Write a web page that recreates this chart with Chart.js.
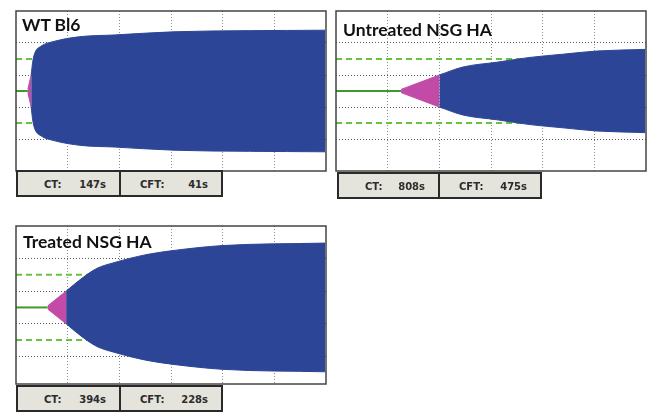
<!DOCTYPE html>
<html>
<head>
<meta charset="utf-8">
<script src="https://cdn.jsdelivr.net/npm/chart.js@4/dist/chart.umd.min.js"></script>
<style>
  html, body { margin: 0; padding: 0; background: #ffffff; }
  #stage { position: relative; width: 652px; height: 417px; overflow: hidden; }
  canvas { position: absolute; }
  .title { position: absolute; font-family: Lato, "Open Sans", sans-serif; font-weight: 700;
           font-size: 17.5px; color: #111; white-space: nowrap; line-height: 1; }
  .box { position: absolute; box-sizing: border-box; border: 2px solid #2a2a2a; background: #e4e3dc;
         font-family: "DejaVu Sans", sans-serif; font-weight: 700; font-size: 10px; color: #2c2c2c; }
  .box span { position: absolute; top: 50%; transform: translateY(-50%); white-space: nowrap; }
</style>
</head>
<body>
<div id="stage"></div>
<script>
// Clot-formation traces (ROTEM style): time in seconds, half amplitude in mm.
const panelTitles = ['WT Bl6', 'Untreated NSG HA', 'Treated NSG HA'];
const ctSeconds  = [147, 808, 394];   // clotting time
const cftSeconds = [41, 475, 228];    // clot formation time

// Envelope (half amplitude, mm) after the CFT end, one pair of arrays per trace
const wtTime        = [188, 210, 236, 310, 472, 807, 1217, 1962, 3840];
const wtAmp         = [10, 19, 24, 28, 31, 34, 35, 37, 38];
const untreatedTime = [1283, 1577, 2000, 2409, 2819, 3242, 3840];
const untreatedAmp  = [10, 15, 18, 21, 23, 25, 26];
const treatedTime   = [622, 807, 1006, 1217, 1627, 1962, 2571, 3840];
const treatedAmp    = [10, 17.5, 24, 27.5, 32.5, 35, 38, 39.5];

const ampAtCT = 1;     // trace just leaving the baseline
const ampAtCFT = 10;   // 20 mm total amplitude
const refLine = 20;    // dashed reference amplitude
const xMax = 3850;     // run length shown, s

const traces = [
  { time: wtTime, amp: wtAmp },
  { time: untreatedTime, amp: untreatedAmp },
  { time: treatedTime, amp: treatedAmp }
];

const layout = [
  { left: 15,  top: 10,  w: 312, h: 162, yMin: -50, yMax: 50, titleX: 22,  titleY: 16,
    boxTop: 170, boxLeft: 16,  boxW: [105, 104] },
  { left: 335, top: 10,  w: 312, h: 162, yMin: -50, yMax: 50, titleX: 343, titleY: 21,
    boxTop: 172, boxLeft: 337, boxW: [103, 104] },
  { left: 15,  top: 225, w: 312, h: 160, yMin: -47, yMax: 50, titleX: 23,  titleY: 233,
    boxTop: 385, boxLeft: 16,  boxW: [105, 104] }
];

const BLUE = '#2d4596';
const PINK = '#c24ba8';
const GREEN = '#3f9a2c';
const GREEN_DASH = '#67c33f';

const framePlugin = {
  id: 'frame',
  afterDraw(chart) {
    const a = chart.chartArea, ctx = chart.ctx;
    ctx.save();
    ctx.strokeStyle = '#444';
    ctx.lineWidth = 1.5;
    ctx.strokeRect(a.left, a.top, a.right - a.left, a.bottom - a.top);
    ctx.restore();
  }
};

const stage = document.getElementById('stage');

traces.forEach((tr, i) => {
  const L = layout[i];
  const canvas = document.createElement('canvas');
  canvas.width = L.w; canvas.height = L.h;
  canvas.style.left = L.left + 'px'; canvas.style.top = L.top + 'px';
  canvas.style.width = L.w + 'px'; canvas.style.height = L.h + 'px';
  stage.appendChild(canvas);

  const ct = ctSeconds[i], cftEnd = ctSeconds[i] + cftSeconds[i];
  const upper = tr.time.map((t, k) => ({ x: t, y: tr.amp[k] }));
  const lower = tr.time.map((t, k) => ({ x: t, y: -tr.amp[k] }));

  new Chart(canvas, {
    type: 'line',
    data: {
      datasets: [
        { data: upper, fill: '+1', backgroundColor: BLUE, borderColor: BLUE, borderWidth: 1,
          pointRadius: 0, cubicInterpolationMode: 'monotone', order: 0 },
        { data: lower, fill: false, borderColor: BLUE, borderWidth: 1,
          pointRadius: 0, cubicInterpolationMode: 'monotone', order: 0 },
        { data: [{ x: ct, y: ampAtCT }, { x: cftEnd, y: ampAtCFT }], fill: '+1',
          backgroundColor: PINK, borderColor: PINK, borderWidth: 1, pointRadius: 0, order: 1 },
        { data: [{ x: ct, y: -ampAtCT }, { x: cftEnd, y: -ampAtCFT }], fill: false,
          borderColor: PINK, borderWidth: 1, pointRadius: 0, order: 1 },
        { data: [{ x: 0, y: 0 }, { x: ct, y: 0 }], borderColor: GREEN, borderWidth: 2,
          pointRadius: 0, fill: false, order: 5 },
        { data: [{ x: 0, y: refLine }, { x: xMax, y: refLine }], borderColor: GREEN_DASH,
          borderWidth: 2, borderDash: [6, 4], pointRadius: 0, fill: false, order: 8 },
        { data: [{ x: 0, y: -refLine }, { x: xMax, y: -refLine }], borderColor: GREEN_DASH,
          borderWidth: 2, borderDash: [6, 4], pointRadius: 0, fill: false, order: 8 }
      ]
    },
    options: {
      responsive: false,
      animation: false,
      devicePixelRatio: 1,
      layout: { padding: 1 },
      plugins: { legend: { display: false }, tooltip: { enabled: false } },
      scales: {
        x: {
          type: 'linear', min: 0, max: xMax,
          afterBuildTicks: s => { s.ticks = [1, 2, 3, 4, 5].map(k => ({ value: k * xMax / 6 })); },
          ticks: { display: false },
          border: { display: false, dash: [1, 2] },
          grid: { drawTicks: false, color: '#8c8c8c', lineWidth: 1 }
        },
        y: {
          type: 'linear', min: L.yMin, max: L.yMax,
          afterBuildTicks: s => { s.ticks = [-30, -10, 10, 30].map(v => ({ value: v })); },
          ticks: { display: false },
          border: { display: false, dash: [1, 2] },
          grid: { drawTicks: false, color: '#555', lineWidth: 1 }
        }
      }
    },
    plugins: [framePlugin]
  });

  const title = document.createElement('div');
  title.className = 'title';
  title.style.left = L.titleX + 'px';
  title.style.top = L.titleY + 'px';
  title.textContent = panelTitles[i];
  stage.appendChild(title);

  const labels = ['CT:', 'CFT:'];
  const values = [ctSeconds[i] + 's', cftSeconds[i] + 's'];
  const labelOffset = [26, 19];
  let x = L.boxLeft;
  for (let b = 0; b < 2; b++) {
    const box = document.createElement('div');
    box.className = 'box';
    box.style.left = x + 'px';
    box.style.top = L.boxTop + 'px';
    box.style.width = L.boxW[b] + 'px';
    box.style.height = '27px';
    const lab = document.createElement('span');
    lab.style.left = labelOffset[b] + 'px';
    lab.textContent = labels[b];
    const val = document.createElement('span');
    val.style.right = '13px';
    val.textContent = values[b];
    box.appendChild(lab); box.appendChild(val);
    stage.appendChild(box);
    x += L.boxW[b] - 2;
  }
});
</script>
</body>
</html>
